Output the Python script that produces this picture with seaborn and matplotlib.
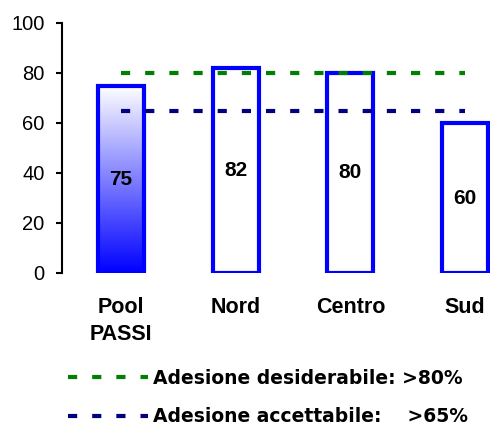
import numpy as np
import pandas as pd
import matplotlib
matplotlib.use("Agg")
import matplotlib.pyplot as plt
from matplotlib.colors import LinearSegmentedColormap
import seaborn as sns

# dati
categorie = ["Pool\nPASSI", "Nord", "Centro", "Sud"]
valori = [75, 82, 80, 60]
soglia_desiderabile = 80
soglia_accettabile = 65
yticks = [0, 20, 40, 60, 80, 100]

sns.set_style("white")
plt.rcParams["font.family"] = ["Liberation Sans", "DejaVu Sans"]
plt.rcParams["text.color"] = "black"

df = pd.DataFrame({"area": categorie, "valore": valori})

fig = plt.figure(figsize=(4.9, 4.28), dpi=100)
ax = fig.add_axes([62 / 490, 155 / 428, 428 / 490, 250 / 428])

sns.barplot(data=df, x="area", y="valore", ax=ax, width=0.40,
            color="white", edgecolor="#0000FF", linewidth=3, saturation=1)

# sfumatura sulla prima barra
grad = LinearSegmentedColormap.from_list("g", ["#0000FF", "#FFFFFF"])
p0 = ax.patches[0]
x0, y0 = p0.get_x(), p0.get_y()
im = ax.imshow(np.linspace(0, 1, 256).reshape(-1, 1), cmap=grad, origin="lower",
               extent=[x0, x0 + p0.get_width(), y0, y0 + p0.get_height()],
               aspect="auto", zorder=p0.get_zorder() + 0.1)
im.set_clip_path(p0)
p0.set_zorder(p0.get_zorder() + 0.2)
p0.set_facecolor("none")

for i, v in enumerate(valori):
    ax.text(i, v / 2, str(v), ha="center", va="center", fontsize=15,
            fontweight="bold", color="black", zorder=5)

ld, = ax.plot([0, 3], [soglia_desiderabile] * 2, color="#008000", lw=3,
              linestyle=(0, (2.2, 3.6)), label="Adesione desiderabile: >80%", zorder=4)
la, = ax.plot([0, 3], [soglia_accettabile] * 2, color="#000080", lw=3,
              linestyle=(0, (2.2, 3.6)), label="Adesione accettabile:    >65%", zorder=4)

ax.set_xlim(-0.514, 3.218)
ax.set_ylim(0, 100)
ax.set_yticks(yticks)
ax.set_xlabel("")
ax.set_ylabel("")
for s in ["top", "right", "bottom"]:
    ax.spines[s].set_visible(False)
ax.spines["left"].set_linewidth(1.5)
ax.spines["left"].set_color("black")
ax.tick_params(axis="y", direction="out", length=4.5, width=1.5, pad=8,
               labelsize=14.5, left=True, colors="black")
ax.tick_params(axis="x", length=0, pad=17, labelsize=15.5, labelcolor="black")
for t in ax.get_xticklabels():
    t.set_fontweight("bold")
    t.set_linespacing(1.4)
    t.set_va("top")

fig.legend(handles=[ld, la], loc="upper left", bbox_to_anchor=(60 / 490, 1 - 361 / 428),
           frameon=False, handlelength=4.3, handletextpad=0.25, borderaxespad=0,
           labelspacing=1.05, prop={"family": "DejaVu Sans", "weight": "bold", "size": 13.5})

fig.savefig("out.png", dpi=100)
